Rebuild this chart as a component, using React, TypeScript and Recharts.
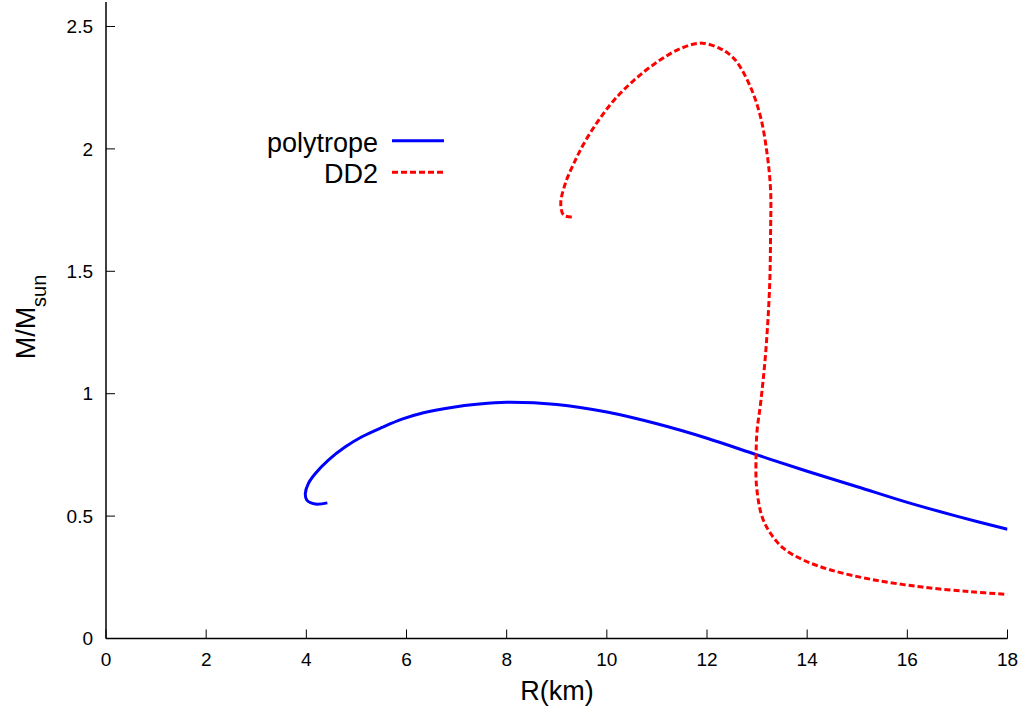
import { LineChart, Line, XAxis, YAxis, Legend, Label } from "recharts"

// radius (km) and mass (M/Msun)
const polytropeR = [4.42, 4.18, 4.01, 3.98, 4.04, 4.18, 4.44, 4.78, 5.11, 5.51, 5.91, 6.34, 6.87, 7.45, 8.0, 9.0, 10.0, 11.0, 12.0, 13.0, 14.0, 15.0, 16.0, 17.0, 18.0]
const polytropeM = [0.554, 0.549, 0.565, 0.593, 0.633, 0.674, 0.729, 0.783, 0.824, 0.862, 0.896, 0.922, 0.943, 0.958, 0.965, 0.956, 0.925, 0.877, 0.818, 0.75, 0.683, 0.62, 0.556, 0.499, 0.446]

const dd2R = [9.3, 9.14, 9.08, 9.17, 9.34, 9.54, 9.82, 10.14, 10.54, 11.0, 11.46, 11.9, 12.27, 12.43, 12.6, 12.87, 13.07, 13.2, 13.27, 13.27, 13.25, 13.17, 13.07, 13.0, 12.98, 12.99, 13.1, 13.27, 13.53, 13.93, 14.47, 15.27, 16.26, 17.26, 18.0]
const dd2M = [1.722, 1.729, 1.776, 1.858, 1.94, 2.021, 2.112, 2.198, 2.28, 2.354, 2.409, 2.432, 2.409, 2.389, 2.354, 2.252, 2.13, 1.98, 1.831, 1.667, 1.436, 1.164, 0.96, 0.85, 0.749, 0.62, 0.497, 0.429, 0.368, 0.32, 0.28, 0.242, 0.211, 0.191, 0.18]

const seriesNames = ["polytrope", "DD2"]
const xTicks = [0, 2, 4, 6, 8, 10, 12, 14, 16, 18]
const yTicks = [0, 0.5, 1, 1.5, 2, 2.5]

const polytrope = polytropeR.map((r, i) => ({ r, m: polytropeM[i] }))
const dd2 = dd2R.map((r, i) => ({ r, m: dd2M[i] }))

const font = "'Liberation Sans', Arial, Helvetica, sans-serif"
const tickStyle = { fontSize: 19, fill: "#000", fontFamily: font }
const axisLine = { stroke: "#000", strokeWidth: 1.5 }
const tickLine = { stroke: "#000", strokeWidth: 1 }

// centripetal catmull-rom; both curves fold back in R so monotoneX can't be used
function smoothCurve(context: any) {
  let pts: number[][] = []
  const segment = (p0: number[], p1: number[], p2: number[], p3: number[]) => {
    const d01 = Math.hypot(p1[0] - p0[0], p1[1] - p0[1])
    const d12 = Math.hypot(p2[0] - p1[0], p2[1] - p1[1])
    const d23 = Math.hypot(p3[0] - p2[0], p3[1] - p2[1])
    const a01 = Math.sqrt(d01)
    const a12 = Math.sqrt(d12)
    const a23 = Math.sqrt(d23)
    let c1x = p1[0]
    let c1y = p1[1]
    let c2x = p2[0]
    let c2y = p2[1]
    if (a01 > 1e-6) {
      const a = 2 * d01 + 3 * a01 * a12 + d12
      const n = 3 * a01 * (a01 + a12)
      c1x = (p1[0] * a - p0[0] * d12 + p2[0] * d01) / n
      c1y = (p1[1] * a - p0[1] * d12 + p2[1] * d01) / n
    }
    if (a23 > 1e-6) {
      const b = 2 * d23 + 3 * a23 * a12 + d12
      const m = 3 * a23 * (a23 + a12)
      c2x = (p2[0] * b + p1[0] * d23 - p3[0] * d12) / m
      c2y = (p2[1] * b + p1[1] * d23 - p3[1] * d12) / m
    }
    context.bezierCurveTo(c1x, c1y, c2x, c2y, p2[0], p2[1])
  }
  return {
    areaStart() {},
    areaEnd() {},
    lineStart() {
      pts = []
    },
    lineEnd() {
      if (!pts.length) return
      context.moveTo(pts[0][0], pts[0][1])
      for (let i = 0; i < pts.length - 1; i++) {
        segment(pts[Math.max(i - 1, 0)], pts[i], pts[i + 1], pts[Math.min(i + 2, pts.length - 1)])
      }
    },
    point(x: number, y: number) {
      pts.push([x, y])
    },
  }
}

function LegendBox({ payload }: any) {
  const items = [...(payload || [])].sort((a: any, b: any) => seriesNames.indexOf(a.value) - seriesNames.indexOf(b.value))
  return (
    <svg width={220} height={75} style={{ display: "block" }}>
      {items.map((p: any, i: number) => (
        <g key={p.value}>
          <text x={138} y={31.7 + i * 31.6} textAnchor="end" fontSize={27} fontFamily={font} fill="#000">
            {p.value}
          </text>
          <line
            x1={152}
            x2={204}
            y1={20.7 + i * 31.6}
            y2={20.7 + i * 31.6}
            stroke={p.color}
            strokeWidth={3}
            strokeDasharray={p.value === "DD2" ? "6 3" : undefined}
          />
        </g>
      ))}
    </svg>
  )
}

export default function App() {
  return (
    <div style={{ position: "absolute", left: 0, top: 0, background: "#fff" }}>
      <LineChart width={1024} height={711} margin={{ top: 2, right: 16.5, bottom: 0, left: 0 }}>
        <XAxis
          type="number"
          dataKey="r"
          domain={[0, 18]}
          ticks={xTicks}
          allowDataOverflow
          height={72.5}
          tickSize={-9}
          tickMargin={23}
          tick={tickStyle}
          axisLine={axisLine}
          tickLine={tickLine}
        >
          <Label
            content={() => (
              <text x={557} y={700} textAnchor="middle" fontSize={27} fontFamily={font} fill="#000">
                R(km)
              </text>
            )}
          />
        </XAxis>
        <XAxis
          xAxisId="top"
          orientation="top"
          type="number"
          domain={[0, 18]}
          ticks={xTicks}
          allowDataOverflow
          height={0}
          tickSize={-9}
          tick={false}
          axisLine={axisLine}
          tickLine={tickLine}
        />
        <YAxis
          type="number"
          domain={[0, 2.6]}
          ticks={yTicks}
          allowDataOverflow
          width={106}
          tickSize={-9}
          tickMargin={22}
          tick={tickStyle}
          axisLine={axisLine}
          tickLine={tickLine}
        >
          <Label
            content={() => (
              <text
                x={35}
                y={317}
                transform="rotate(-90 35 317)"
                textAnchor="middle"
                fontSize={27}
                fontFamily={font}
                fill="#000"
              >
                M/M
                <tspan fontSize={20} dy={11}>
                  sun
                </tspan>
              </text>
            )}
          />
        </YAxis>
        <YAxis
          yAxisId="right"
          orientation="right"
          type="number"
          domain={[0, 2.6]}
          ticks={yTicks}
          allowDataOverflow
          width={0}
          tickSize={-9}
          tick={false}
          axisLine={axisLine}
          tickLine={tickLine}
        />
        <Legend
          layout="vertical"
          align="center"
          verticalAlign="middle"
          content={LegendBox}
          wrapperStyle={{ left: 240, top: 120, width: 220 }}
        />
        <Line
          name="polytrope"
          data={polytrope}
          dataKey="m"
          type={smoothCurve as any}
          stroke="#0000ff"
          strokeWidth={3}
          dot={false}
          isAnimationActive={false}
        />
        <Line
          name="DD2"
          data={dd2}
          dataKey="m"
          type={smoothCurve as any}
          stroke="#ff0000"
          strokeWidth={3}
          strokeDasharray="6 3"
          dot={false}
          isAnimationActive={false}
        />
      </LineChart>
    </div>
  )
}
